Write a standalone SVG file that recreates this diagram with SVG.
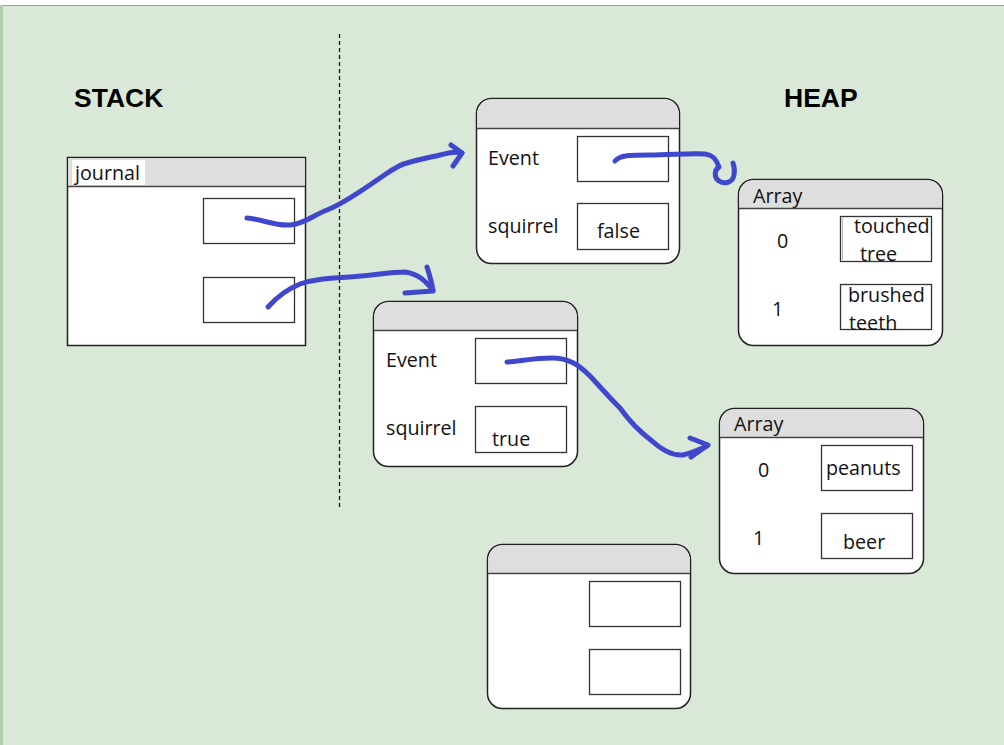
<svg xmlns="http://www.w3.org/2000/svg" width="1004" height="745" viewBox="0 0 1004 745">
<style>
.t{font-family:"Open Sans","Noto Sans","Liberation Sans",sans-serif;font-size:19.7px;fill:#111}
.h{font-family:"Liberation Sans",Arial,sans-serif;font-size:26.5px;font-weight:bold;fill:#000}
.box{fill:#fff;stroke:#222;stroke-width:1.5}
.hdr{fill:#dedede}
.sep{stroke:#444;stroke-width:1.5}
.slot{fill:#fff;stroke:#333;stroke-width:1.3}
.c{fill:none;stroke:#3f48cc;stroke-width:5;stroke-linecap:round;stroke-linejoin:round}
</style>
<rect x="0" y="0" width="1004" height="745" fill="#ffffff"/>
<rect x="0" y="5" width="1004" height="740" fill="#d9e8d7"/>
<line x1="0" y1="5.5" x2="1004" y2="5.5" stroke="#7fa8a8" stroke-width="1"/>
<rect x="0" y="5" width="3" height="740" fill="#b2d0ae"/>
<line x1="339.5" y1="34" x2="339.5" y2="507" stroke="#111" stroke-width="1.3" stroke-dasharray="4,3"/>
<text class="h" x="74" y="107">STACK</text>
<text class="h" x="784" y="107">HEAP</text>

<g id="journal">
<rect class="box" x="67.5" y="157.5" width="238" height="188"/>
<rect class="hdr" x="68.3" y="158.3" width="236.4" height="28"/>
<line class="sep" x1="68" y1="186.5" x2="305" y2="186.5"/>
<rect x="72" y="160" width="73" height="25" fill="#fff"/>
<text class="t" x="75" y="180">journal</text>
<rect class="slot" x="203.5" y="198.5" width="91" height="45"/>
<rect class="slot" x="203.5" y="277.5" width="91" height="45"/>
</g>

<g id="event1">
<rect class="box" x="476.5" y="98.5" width="203" height="165" rx="15"/>
<path class="hdr" d="M491.5,99.3 H664.5 A14.2,14.2 0 0 1 678.7,113.5 V128 H477.3 V113.5 A14.2,14.2 0 0 1 491.5,99.3 Z"/>
<line class="sep" x1="477" y1="128.5" x2="679" y2="128.5"/>
<text class="t" x="488" y="165">Event</text>
<rect class="slot" x="577.5" y="136.5" width="91" height="45"/>
<text class="t" x="488" y="233">squirrel</text>
<rect class="slot" x="577.5" y="203.5" width="91" height="46"/>
<text class="t" x="597" y="238">false</text>
</g>

<g id="event2">
<rect class="box" x="373.5" y="301.5" width="204" height="165" rx="15"/>
<path class="hdr" d="M388.5,302.3 H562.5 A14.2,14.2 0 0 1 576.7,316.5 V330 H374.3 V316.5 A14.2,14.2 0 0 1 388.5,302.3 Z"/>
<line class="sep" x1="374" y1="330.5" x2="577" y2="330.5"/>
<text class="t" x="386" y="367">Event</text>
<rect class="slot" x="475.5" y="338.5" width="91" height="45"/>
<text class="t" x="386" y="435">squirrel</text>
<rect class="slot" x="475.5" y="406.5" width="91" height="46"/>
<text class="t" x="492" y="446">true</text>
</g>

<g id="array1">
<rect class="box" x="738.5" y="179.5" width="204" height="166" rx="15"/>
<path class="hdr" d="M753.5,180.3 H927.5 A14.2,14.2 0 0 1 941.7,194.5 V208 H739.3 V194.5 A14.2,14.2 0 0 1 753.5,180.3 Z"/>
<line class="sep" x1="739" y1="208.5" x2="942" y2="208.5"/>
<text class="t" x="753" y="203">Array</text>
<text class="t" x="777" y="248">0</text>
<rect class="slot" x="840.5" y="216.5" width="91" height="45"/>
<line x1="842.5" y1="218" x2="842.5" y2="260" stroke="#bbb" stroke-width="1"/>
<text class="t" x="854" y="233">touched</text>
<text class="t" x="860" y="261">tree</text>
<text class="t" x="772" y="316">1</text>
<rect class="slot" x="840.5" y="284.5" width="91" height="45"/>
<text class="t" x="848" y="302">brushed</text>
<text class="t" x="849" y="330">teeth</text>
</g>

<g id="array2">
<rect class="box" x="719.5" y="408.5" width="204" height="165" rx="15"/>
<path class="hdr" d="M734.5,409.3 H908.5 A14.2,14.2 0 0 1 922.7,423.5 V437 H720.3 V423.5 A14.2,14.2 0 0 1 734.5,409.3 Z"/>
<line class="sep" x1="720" y1="437.5" x2="923" y2="437.5"/>
<text class="t" x="734" y="431">Array</text>
<text class="t" x="758" y="477">0</text>
<rect class="slot" x="821.5" y="445.5" width="91" height="45"/>
<text class="t" x="826" y="475">peanuts</text>
<text class="t" x="753" y="545">1</text>
<rect class="slot" x="821.5" y="513.5" width="91" height="45"/>
<text class="t" x="843" y="549">beer</text>
</g>

<g id="empty">
<rect class="box" x="487.5" y="544.5" width="203" height="164" rx="15"/>
<path class="hdr" d="M502.5,545.3 H675.5 A14.2,14.2 0 0 1 689.7,559.5 V573 H488.3 V559.5 A14.2,14.2 0 0 1 502.5,545.3 Z"/>
<line class="sep" x1="488" y1="573.5" x2="690" y2="573.5"/>
<rect class="slot" x="589.5" y="581.5" width="91" height="45"/>
<rect class="slot" x="589.5" y="649.5" width="91" height="45"/>
</g>

<g id="connectors">
<path class="c" d="M247,218 C262,219 274,226 290,225 C305,224 315,214 327,210 C340,205 360,192 380,178 C392,170 398,165 407,163 C417,160 427,158 440,155 C448,153 455,151 462,153"/>
<path class="c" d="M451,145 L462,153 L453,166"/>
<path class="c" d="M268,307 C276,298 285,290 300,284 C315,279 330,278 350,277 C370,276 390,272 405,272 C420,274 427,283 433,290"/>
<path class="c" d="M427,267 C430,276 432,284 433,291 L405,293"/>
<path class="c" d="M507,362 C520,361 535,358 552,358 C568,358 578,364 590,376 C603,390 612,400 620,408 C630,422 640,432 652,441 C662,450 672,456 683,455 C692,453 700,449 707,446"/>
<path class="c" d="M690,438 L708,445 L691,457"/>
<path class="c" d="M615,161 C620,155 630,155 650,155 C670,155 690,153 705,154 C714,155 717,161 719,167 C714,170 714,178 719,181 C725,185 733,182 734,175 C735,170 734,166 733,163"/>
</g>
</svg>
